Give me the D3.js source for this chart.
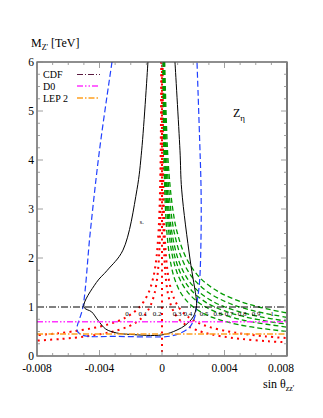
<!DOCTYPE html>
<html><head><meta charset="utf-8">
<script src="https://cdn.jsdelivr.net/npm/d3@7"></script>
<style>body{margin:0;background:#fff}svg{display:block}text{font-family:"Liberation Serif","DejaVu Serif",serif;fill:#000}</style>
</head><body><svg id="c" width="323" height="418"></svg>
<script>
// ---------- data ----------
const xTicks = [-0.008, -0.004, 0, 0.004, 0.008];
const xTickLabels = ["-0.008", "-0.004", "0", "0.004", "0.008"];
const yTicks = [0, 1, 2, 3, 4, 5, 6];
const legendNames = ["CDF", "D0", "LEP 2"];
const limitMasses = [1.0, 0.70, 0.45];          // CDF, D0, LEP 2 lower limits (TeV)

const blueBoundary = [[-0.0032,6],[-0.0040,4.2],[-0.0046,2.5],[-0.00506,1.0],[-0.00544,0.53],[-0.0052,0.44],[-0.0047,0.40],[-0.003,0.40],[0,0.39],[0.0006,0.41],[0.0012,0.47],[0.0018,0.6],[0.0021,0.8],[0.0022,1.0],[0.0024,1.5],[0.0025,2.5],[0.0025,3.4],[0.0024,4.5],[0.00224,6]];
const blackContour = [[-0.0009,6],[-0.0013,4.2],[-0.0016,3.4],[-0.0025,2.16],[-0.0035,1.75],[-0.0042,1.5],[-0.005,1.0],[-0.0045,0.9],[-0.0041,0.73],[-0.0036,0.55],[-0.0029,0.47],[-0.002,0.44],[0,0.43],[0.00096,0.53],[0.0015,0.63],[0.002,0.8],[0.0022,1.0],[0.0022,1.14],[0.0018,1.96],[0.00126,3.39],[0.00115,4.2],[0.00083,6]];

// red dotted curves: parameter 0, 0.1, 0.2 (vertical), 0.3, 0.4
const redP0  = [[-0.00004,6],[-0.00009,4],[-0.000159,3],[-0.000229,2.5],[-0.000358,2],[-0.00056,1.6],[-0.00085,1.3],[-0.00119,1.1],[-0.00143,1.0],[-0.00177,0.9],[-0.00224,0.8],[-0.00293,0.7],[-0.00398,0.6],[-0.00574,0.5],[-0.00708,0.45],[-0.0082,0.42]];
const redP01 = [[-0.000022,6],[-0.000049,4],[-0.000087,3],[-0.000125,2.5],[-0.000195,2],[-0.000305,1.6],[-0.00046,1.3],[-0.000645,1.1],[-0.00078,1.0],[-0.00096,0.9],[-0.00122,0.8],[-0.00159,0.7],[-0.00217,0.6],[-0.00312,0.5],[-0.00386,0.45],[-0.00488,0.4],[-0.00638,0.35],[-0.0082,0.31]];
const redP02 = [[0,0.08],[0,6]];
const redP03 = [[0.000017,6],[0.000038,4],[0.000068,3],[0.000098,2.5],[0.000154,2],[0.00024,1.6],[0.000364,1.3],[0.000508,1.1],[0.000614,1.0],[0.00076,0.9],[0.00096,0.8],[0.00125,0.7],[0.00171,0.6],[0.00246,0.5],[0.00303,0.45],[0.00384,0.4],[0.00502,0.35],[0.00683,0.3],[0.0082,0.275]];
const redP04 = [[0.00003,6],[0.000066,4],[0.000118,3],[0.00017,2.5],[0.000266,2],[0.000415,1.6],[0.00063,1.3],[0.00088,1.1],[0.00106,1.0],[0.00131,0.9],[0.00166,0.8],[0.00217,0.7],[0.00295,0.6],[0.00425,0.5],[0.00525,0.45],[0.00664,0.4],[0.0082,0.36]];

// green dashed curves: parameter 0.5 ... 1
const greenCurves = [
  [[0.000056,6],[0.000125,4],[0.000222,3],[0.00032,2.5],[0.0005,2],[0.00078,1.6],[0.00118,1.3],[0.00165,1.1],[0.002,1.0],[0.00247,0.9],[0.00313,0.8],[0.00408,0.7],[0.00556,0.6],[0.008,0.5]],
  [[0.000077,6],[0.000174,4],[0.000309,3],[0.000446,2.5],[0.000696,2],[0.00109,1.6],[0.00165,1.3],[0.0023,1.1],[0.00279,1.0],[0.00344,0.9],[0.00435,0.8],[0.00568,0.7],[0.008,0.59]],
  [[0.000094,6],[0.000211,4],[0.000376,3],[0.000541,2.5],[0.000845,2],[0.00132,1.6],[0.002,1.3],[0.00279,1.1],[0.00338,1.0],[0.00417,0.9],[0.00528,0.8],[0.0069,0.7],[0.008,0.65]],
  [[0.000112,6],[0.000252,4],[0.000448,3],[0.000645,2.5],[0.00101,2],[0.00158,1.6],[0.00239,1.3],[0.00333,1.1],[0.00403,1.0],[0.00498,0.9],[0.0063,0.8],[0.008,0.71]],
  [[0.000139,6],[0.000312,4],[0.000555,3],[0.000799,2.5],[0.00125,2],[0.00195,1.6],[0.00295,1.3],[0.00413,1.1],[0.00499,1.0],[0.00616,0.9],[0.0078,0.8],[0.008,0.79]],
  [[0.000172,6],[0.000387,4],[0.000688,3],[0.000991,2.5],[0.00155,2],[0.00242,1.6],[0.00367,1.3],[0.00512,1.1],[0.0062,1.0],[0.00765,0.9],[0.008,0.88]]
];
const paramLabels = ["0","0.1","0.2","0.3","0.4","0.5","0.6","0.7","0.8","0.9","1"];
const paramLabelX = [-0.00224,-0.00122,-0.00032,0.00096,0.00166,0.00269,0.00358,0.00429,0.00512,0.00602,0.00704];
const paramLabelM = 0.82;

// ---------- drawing ----------
const svg = d3.select("#c");
const L = 37, R = 287, T = 62, B = 356;
const x = d3.scaleLinear().domain([-0.008, 0.008]).range([L, R]);
const y = d3.scaleLinear().domain([0, 6]).range([B, T]);

svg.append("defs").append("clipPath").attr("id","clip")
  .append("rect").attr("x",L).attr("y",T).attr("width",R-L).attr("height",B-T);
const g = svg.append("g").attr("clip-path","url(#clip)");
const smooth = d3.line().x(d=>x(d[0])).y(d=>y(d[1])).curve(d3.curveCatmullRom.alpha(0.5));

// red dotted
[redP0, redP01, redP02, redP03, redP04].forEach(c => g.append("path").attr("d", smooth(c)).attr("fill","none")
  .attr("stroke","#ff0000").attr("stroke-width",2).attr("stroke-dasharray","2,4.2"));
// green dashed
greenCurves.forEach(c => g.append("path").attr("d", smooth(c)).attr("fill","none")
  .attr("stroke","#009a00").attr("stroke-width",1.3).attr("stroke-dasharray","5,3"));
// blue dashed
g.append("path").attr("d", smooth(blueBoundary)).attr("fill","none").attr("stroke","#2040ff")
  .attr("stroke-width",1.2).attr("stroke-dasharray","6,3");
// black contour
g.append("path").attr("d", smooth(blackContour)).attr("fill","none").attr("stroke","#000")
  .attr("stroke-width",1);

// horizontal limits
const limStyles = [
  {c:"#000", w:1, d:"7,2,1,2"},
  {c:"#ff33ff", w:1.6, d:"6,2,1.5,2,1.5,2"},
  {c:"#ffa020", w:1.6, d:"6,2,1.5,2"}
];
limitMasses.forEach((m,i) => g.append("line").attr("x1",L).attr("x2",R)
  .attr("y1",y(m)).attr("y2",y(m)).attr("stroke",limStyles[i].c)
  .attr("stroke-width",limStyles[i].w).attr("stroke-dasharray",limStyles[i].d));

// parameter labels
paramLabels.forEach((t,i) => svg.append("text").attr("x",x(paramLabelX[i])).attr("y",y(paramLabelM))
  .attr("text-anchor","middle").attr("font-size",7).attr("fill","#333").text(t));

// small marker text
svg.append("text").attr("x",x(-0.00142)).attr("y",y(2.7)).attr("font-size",6).text("s.");

// frame
svg.append("rect").attr("x",L).attr("y",T).attr("width",R-L).attr("height",B-T)
  .attr("fill","none").attr("stroke","#444").attr("stroke-width",1.2);
svg.append("line").attr("x1",R).attr("x2",R).attr("y1",T).attr("y2",B).attr("stroke","#777").attr("stroke-width",2);

// ticks
const tk = svg.append("g").attr("stroke","#888").attr("stroke-width",0.8);
d3.range(-0.008, 0.00801, 0.001).forEach(v => {
  const major = Math.abs(Math.round(v*1000)) % 4 === 0;
  const len = major ? 6 : 3;
  tk.append("line").attr("x1",x(v)).attr("x2",x(v)).attr("y1",B).attr("y2",B-len);
  tk.append("line").attr("x1",x(v)).attr("x2",x(v)).attr("y1",T).attr("y2",T+len);
});
d3.range(0, 6.001, 0.25).forEach(v => {
  const major = Math.abs(v - Math.round(v)) < 1e-6;
  const len = major ? 6 : 3;
  tk.append("line").attr("x1",L).attr("x2",L+len).attr("y1",y(v)).attr("y2",y(v));
  tk.append("line").attr("x1",R).attr("x2",R-len).attr("y1",y(v)).attr("y2",y(v));
});

// tick labels
xTicks.forEach((v,i) => svg.append("text").attr("x", i===4 ? x(v)-6 : x(v)).attr("y",372)
  .attr("text-anchor","middle").attr("font-size",11.5).text(xTickLabels[i]));
yTicks.forEach(v => svg.append("text").attr("x",34).attr("y",y(v)+4)
  .attr("text-anchor","end").attr("font-size",11.5).text(v));

// axis titles
const yt = svg.append("text").attr("x",31).attr("y",47).attr("font-size",12);
yt.append("tspan").text("M");
yt.append("tspan").attr("dy",3).attr("font-size",8).text("Z'");
yt.append("tspan").attr("dy",-3).text(" [TeV]");
const xt = svg.append("text").attr("x",263).attr("y",388).attr("font-size",12);
xt.append("tspan").text("sin θ");
xt.append("tspan").attr("dy",3).attr("font-size",8).text("zz'");
const zl = svg.append("text").attr("x",233).attr("y",117).attr("font-size",12);
zl.append("tspan").text("Z");
zl.append("tspan").attr("dy",4).attr("font-size",9).text("η");

// legend
const legStyles = [{c:"#5a1a40",w:1,d:"6,2,1,2"},limStyles[1],limStyles[2]];
legendNames.forEach((n,i) => {
  const yy = [78, 89.5, 101.5][i];
  svg.append("text").attr("x",43).attr("y",yy).attr("font-size",10).text(n);
  svg.append("line").attr("x1",77).attr("x2",100).attr("y1",yy-3.5).attr("y2",yy-3.5)
    .attr("stroke",legStyles[i].c).attr("stroke-width",legStyles[i].w).attr("stroke-dasharray",legStyles[i].d);
});
</script></body></html>
